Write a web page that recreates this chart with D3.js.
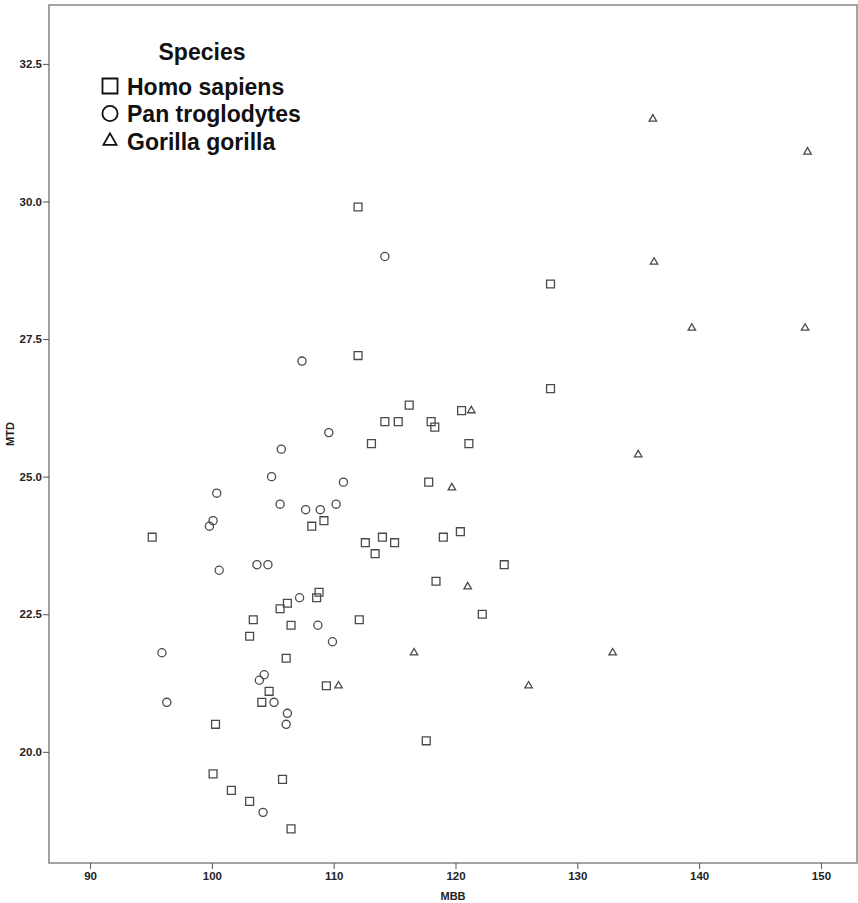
<!DOCTYPE html>
<html>
<head>
<meta charset="utf-8">
<script src="https://cdn.jsdelivr.net/npm/d3@7"></script>
<style>
  html, body { margin: 0; padding: 0; background: #fff; }
  svg { display: block; font-family: "Liberation Sans", Arial, sans-serif; }
</style>
</head>
<body>
<svg id="chart" width="858" height="903"></svg>
<script>
// ---- data ----
const speciesNames = ["Homo sapiens", "Pan troglodytes", "Gorilla gorilla"];

const homoMBB = [112.0,127.8,112.0,127.8,116.2,120.5,114.2,115.3,118.0,118.3,113.1,121.1,117.8,109.2,108.2,95.1,112.6,114.0,115.0,113.4,119.0,120.4,124.0,118.4,122.2,108.8,108.6,106.2,105.6,103.4,106.5,112.1,103.1,106.1,109.4,104.7,104.1,100.3,117.6,100.1,105.8,101.6,103.1,106.5];
const homoMTD = [29.9,28.5,27.2,26.6,26.3,26.2,26.0,26.0,26.0,25.9,25.6,25.6,24.9,24.2,24.1,23.9,23.8,23.9,23.8,23.6,23.9,24.0,23.4,23.1,22.5,22.9,22.8,22.7,22.6,22.4,22.3,22.4,22.1,21.7,21.2,21.1,20.9,20.5,20.2,19.6,19.5,19.3,19.1,18.6];

const panMBB = [114.2,107.4,109.6,105.7,104.9,110.8,100.4,105.6,107.7,108.9,110.2,100.1,99.8,100.6,103.7,104.6,107.2,108.7,109.9,95.9,104.3,103.9,105.1,96.3,106.2,106.1,104.2];
const panMTD = [29.0,27.1,25.8,25.5,25.0,24.9,24.7,24.5,24.4,24.4,24.5,24.2,24.1,23.3,23.4,23.4,22.8,22.3,22.0,21.8,21.4,21.3,20.9,20.9,20.7,20.5,18.9];

const gorillaMBB = [136.2,148.9,136.3,139.4,148.7,121.3,135.0,119.7,121.0,116.6,132.9,110.4,126.0];
const gorillaMTD = [31.5,30.9,28.9,27.7,27.7,26.2,25.4,24.8,23.0,21.8,21.8,21.2,21.2];

const xTicks = [90, 100, 110, 120, 130, 140, 150];
const yTicks = [20.0, 22.5, 25.0, 27.5, 30.0, 32.5];
const xTitle = "MBB";
const yTitle = "MTD";
const legendTitle = "Species";

// ---- layout ----
const svg = d3.select("#chart");
const pLeft = 49, pRight = 857, pTop = 5, pBottom = 863;

const x = d3.scaleLinear().domain([86.63, 152.96]).range([pLeft, pRight]);
const y = d3.scaleLinear().domain([17.98, 33.57]).range([pBottom, pTop]);

// frame
svg.append("rect")
  .attr("x", pLeft).attr("y", pTop)
  .attr("width", pRight - pLeft).attr("height", pBottom - pTop)
  .attr("fill", "none").attr("stroke", "#8c8c8c").attr("stroke-width", 1.6);

// axes
const xAxis = svg.append("g").attr("transform", `translate(0,${pBottom})`)
  .call(d3.axisBottom(x).tickValues(xTicks).tickSize(6).tickPadding(3).tickFormat(d3.format("d")));
const yAxis = svg.append("g").attr("transform", `translate(${pLeft},0)`)
  .call(d3.axisLeft(y).tickValues(yTicks).tickSize(6).tickPadding(1).tickFormat(d3.format(".1f")));
[xAxis, yAxis].forEach(a => {
  a.select(".domain").remove();
  a.selectAll(".tick line").attr("stroke", "#555").attr("stroke-width", 1);
  a.selectAll(".tick text").attr("fill", "#222")
    .style("font-family", '"Liberation Sans", Arial, sans-serif')
    .style("font-size", "11.5px").style("font-weight", "bold");
});

// axis titles
svg.append("text").attr("x", (pLeft + pRight) / 2).attr("y", 900)
  .attr("text-anchor", "middle").attr("fill", "#222")
  .style("font-size", "11px").style("font-weight", "bold").text(xTitle);
svg.append("text")
  .attr("transform", `translate(14,${(pTop + pBottom) / 2}) rotate(-90)`)
  .attr("text-anchor", "middle").attr("fill", "#222")
  .style("font-size", "11px").style("font-weight", "bold").text(yTitle);

// points
const shapes = [d3.symbolSquare, d3.symbolCircle, d3.symbolTriangle];
const sizes = [62, 52, 24];
const series = [
  {xs: homoMBB, ys: homoMTD},
  {xs: panMBB, ys: panMTD},
  {xs: gorillaMBB, ys: gorillaMTD}
];
series.forEach((s, i) => {
  const pts = s.xs.map((v, k) => [v, s.ys[k]]);
  svg.append("g").selectAll("path").data(pts).join("path")
    .attr("transform", d => `translate(${x(d[0])},${y(d[1])})`)
    .attr("d", d3.symbol().type(shapes[i]).size(sizes[i]))
    .attr("fill", "none").attr("stroke", "#4a4a4a").attr("stroke-width", 1.3);
});

// legend
const lg = svg.append("g");
lg.append("text").attr("x", 202).attr("y", 60).attr("text-anchor", "middle")
  .attr("fill", "#111").style("font-size", "23px").style("font-weight", "bold").text(legendTitle);
const legSizes = [225, 180, 75];
const legY = [86, 113.5, 141];
speciesNames.forEach((name, i) => {
  lg.append("path").attr("transform", `translate(110,${legY[i]})`)
    .attr("d", d3.symbol().type(shapes[i]).size(legSizes[i]))
    .attr("fill", "none").attr("stroke", "#111").attr("stroke-width", 1.8);
  lg.append("text").attr("x", 127).attr("y", legY[i] + 8.5)
    .attr("fill", "#111").style("font-size", "23px").style("font-weight", "bold").text(name);
});
</script>
</body>
</html>
